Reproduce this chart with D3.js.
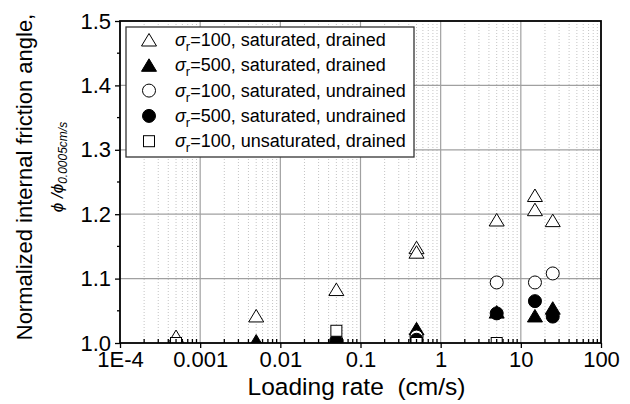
<!DOCTYPE html>
<html>
<head>
<meta charset="utf-8">
<script src="https://cdn.jsdelivr.net/npm/d3@7.9.0/dist/d3.min.js"></script>
<style>
  body { margin: 0; background: #fff; }
  svg { font-family: Arial, "Liberation Sans", sans-serif; }
</style>
</head>
<body>
<div id="chart"></div>
<script>
// Data
const xTicks = [1e-4, 1e-3, 1e-2, 1e-1, 1, 10, 100];
const xTickLabels = ["1E-4", "0.001", "0.01", "0.1", "1", "10", "100"];
const yTicks = [1.0, 1.1, 1.2, 1.3, 1.4, 1.5];

const sat100DrainedX = [0.0005, 0.005, 0.05, 0.5, 0.5, 5, 15, 15, 25];
const sat100DrainedY = [1.010, 1.042, 1.083, 1.148, 1.141, 1.191, 1.229, 1.207, 1.190];
const sat500DrainedX = [0.005, 0.05, 0.5, 5, 15, 25];
const sat500DrainedY = [1.003, 1.004, 1.022, 1.048, 1.042, 1.054];
const sat100UndrainedX = [0.05, 0.5, 5, 15, 25];
const sat100UndrainedY = [1.004, 1.010, 1.094, 1.094, 1.108];
const sat500UndrainedX = [0.05, 0.5, 5, 15, 25];
const sat500UndrainedY = [1.002, 1.005, 1.046, 1.065, 1.041];
const unsat100DrainedX = [0.0005, 0.05, 0.5, 5];
const unsat100DrainedY = [1.000, 1.019, 1.000, 1.000];

const legendStress = ["100", "500", "100", "500", "100"];
const legendRest = [", saturated, drained", ", saturated, drained", ", saturated, undrained",
                    ", saturated, undrained", ", unsaturated, drained"];

const series = [
  { xs: sat100DrainedX, ys: sat100DrainedY, shape: "tri", fill: "#fff" },
  { xs: sat500DrainedX, ys: sat500DrainedY, shape: "tri", fill: "#000" },
  { xs: sat100UndrainedX, ys: sat100UndrainedY, shape: "circ", fill: "#fff" },
  { xs: sat500UndrainedX, ys: sat500UndrainedY, shape: "circ", fill: "#000" },
  { xs: unsat100DrainedX, ys: unsat100DrainedY, shape: "sq", fill: "#fff" }
];

const W = 630, H = 404;
const plotL = 120, plotR = 601, plotT = 21, plotB = 343;

const svg = d3.select("#chart").append("svg")
  .attr("width", W).attr("height", H);

const x = d3.scaleLog().domain([1e-4, 100]).range([plotL, plotR]);
const y = d3.scaleLinear().domain([1.0, 1.5]).range([plotB, plotT]);

// minor grid (dotted) at 2..9 of each decade
const minorX = [];
for (let e = -4; e < 2; e++) for (let m = 2; m <= 9; m++) minorX.push(m * Math.pow(10, e));

const grid = svg.append("g");
grid.selectAll(".minor").data(minorX).join("line")
  .attr("x1", d => x(d)).attr("x2", d => x(d))
  .attr("y1", plotT).attr("y2", plotB)
  .attr("stroke", "#c4c4c4").attr("stroke-width", 1)
  .attr("stroke-dasharray", "1,2");
grid.selectAll(".majx").data(xTicks.slice(1, -1)).join("line")
  .attr("x1", d => x(d)).attr("x2", d => x(d))
  .attr("y1", plotT).attr("y2", plotB)
  .attr("stroke", "#a0a0a0").attr("stroke-width", 1.2);
grid.selectAll(".majy").data(yTicks.slice(1, -1)).join("line")
  .attr("x1", plotL).attr("x2", plotR)
  .attr("y1", d => y(d)).attr("y2", d => y(d))
  .attr("stroke", "#a0a0a0").attr("stroke-width", 1.2);

// markers, clipped to the plot area
svg.append("clipPath").attr("id", "clip")
  .append("rect").attr("x", plotL).attr("y", plotT)
  .attr("width", plotR - plotL).attr("height", plotB - plotT);

function marker(sel, shape, fill) {
  if (shape === "tri") {
    sel.append("path").attr("d", "M0,-6.5L7.5,6L-7.5,6Z");
  } else if (shape === "circ") {
    sel.append("circle").attr("r", 6.5);
  } else {
    sel.append("rect").attr("x", -5.5).attr("y", -5.5).attr("width", 11).attr("height", 11);
  }
  sel.selectAll("path,circle,rect")
    .attr("fill", fill).attr("stroke", "#000").attr("stroke-width", 1);
}

const marks = svg.append("g").attr("clip-path", "url(#clip)");
series.forEach(s => {
  const pts = s.xs.map((v, i) => [v, s.ys[i]]);
  marks.append("g").selectAll("g").data(pts).join("g")
    .attr("transform", d => `translate(${x(d[0])},${y(d[1])})`)
    .each(function () { marker(d3.select(this), s.shape, s.fill); });
});

// axes
const xAxis = svg.append("g").attr("transform", `translate(0,${plotB})`)
  .call(d3.axisBottom(x).tickValues(xTicks).tickSize(5).tickPadding(3)
    .tickFormat((d, i) => xTickLabels[i]));
xAxis.append("g").selectAll("line").data(minorX).join("line")
  .attr("x1", d => x(d)).attr("x2", d => x(d))
  .attr("y1", 0).attr("y2", -4).attr("stroke", "#000");

const yAxis = svg.append("g").attr("transform", `translate(${plotL},0)`)
  .call(d3.axisLeft(y).tickValues(yTicks).tickSize(5).tickPadding(4)
    .tickFormat(d3.format(".1f")));
yAxis.append("g").selectAll("line").data([1.05, 1.15, 1.25, 1.35, 1.45]).join("line")
  .attr("y1", d => y(d)).attr("y2", d => y(d))
  .attr("x1", 0).attr("x2", -3).attr("stroke", "#000");

[xAxis, yAxis].forEach(a => {
  a.select(".domain").remove();
  a.selectAll("text").attr("font-size", 22).attr("fill", "#000")
    .attr("font-family", "Arial, 'Liberation Sans', sans-serif");
  a.selectAll("line").attr("stroke-width", 1.3);
});

// frame
svg.append("rect").attr("x", plotL).attr("y", plotT)
  .attr("width", plotR - plotL).attr("height", plotB - plotT)
  .attr("fill", "none").attr("stroke", "#000").attr("stroke-width", 1.8);

// legend
const lg = svg.append("g");
lg.append("rect").attr("x", 126).attr("y", 27).attr("width", 288).attr("height", 130)
  .attr("fill", "#fff").attr("stroke", "#333").attr("stroke-width", 1.3);
series.forEach((s, i) => {
  const cy = 40 + i * 25.3;
  const g = lg.append("g").attr("transform", `translate(149,${cy})`);
  marker(g, s.shape, s.fill);
  const t = lg.append("text").attr("x", 175).attr("y", cy + 6).attr("font-size", 18);
  t.append("tspan").attr("font-style", "italic").text("σ");
  t.append("tspan").attr("font-size", 13).attr("dy", 5).text("r");
  t.append("tspan").attr("dy", -5).text("=" + legendStress[i] + legendRest[i]);
});

// axis titles
svg.append("text")
  .attr("x", (plotL + plotR) / 2 - 4).attr("y", 395)
  .attr("text-anchor", "middle").attr("font-size", 24.5)
  .style("white-space", "pre")
  .text("Loading rate  (cm/s)");

svg.append("text")
  .attr("transform", "translate(32,177) rotate(-90)")
  .attr("text-anchor", "middle").attr("font-size", 22)
  .text("Normalized internal friction angle,");

const t2 = svg.append("text")
  .attr("transform", "translate(63,167) rotate(-90)")
  .attr("text-anchor", "middle").attr("font-size", 17).attr("font-style", "italic");
t2.append("tspan").text("ϕ /ϕ");
t2.append("tspan").attr("font-size", 12).attr("dy", 4).text("0.0005cm/s");
</script>
</body>
</html>
